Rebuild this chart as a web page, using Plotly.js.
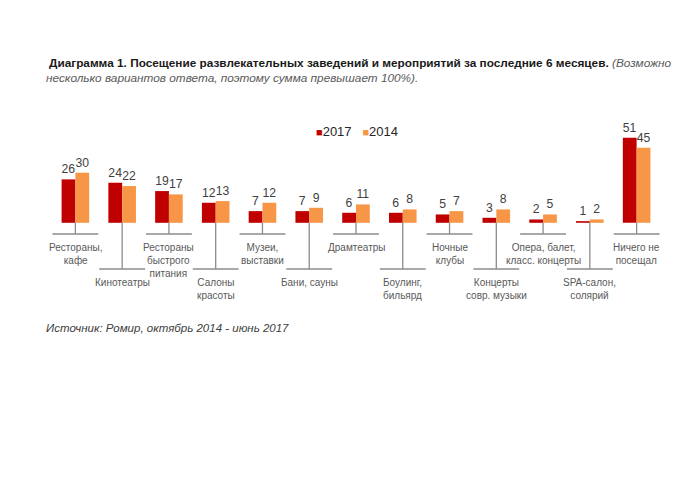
<!DOCTYPE html>
<html><head><meta charset="utf-8">
<script src="https://cdn.plot.ly/plotly-3.0.1.min.js"></script>
<style>body{margin:0;background:#fff}#c{width:700px;height:490px}</style>
</head><body><div id="c"></div>
<script>
const categories = ["Рестораны,<br>кафе","Кинотеатры","Рестораны<br>быстрого<br>питания","Салоны<br>красоты","Музеи,<br>выставки","Бани, сауны","Драмтеатры","Боулинг,<br>бильярд","Ночные<br>клубы","Концерты<br>совр. музыки","Опера, балет,<br>класс. концерты","SPA-салон,<br>солярий","Ничего не<br>посещал"];
const values2017 = [26,24,19,12,7,7,6,6,5,3,2,1,51];
const values2014 = [30,22,17,13,12,9,11,8,7,8,5,2,45];
const seriesNames = ["2017","2014"];
const seriesColors = ["#C00000","#F79646"];

const SANS = 'Arial, "Liberation Sans", sans-serif';
const idx = categories.map((_, i) => i);

// pixel helpers (layout only)
const BASE = 222.8, PXU = 1.67;
const py = p => (BASE - p) / PXU;

const valFont = {family:SANS, size:12.2, color:'#404040'};
const traces = [values2017, values2014].map((vals, k) => ({
  type:'bar', name:seriesNames[k], x:idx, y:vals, marker:{color:seriesColors[k]},
  text:vals.map(String), textposition:'outside', constraintext:'none', cliponaxis:false,
  textfont:valFont, outsidetextfont:valFont, showlegend:false
}));

const shapes = [], annotations = [];
categories.forEach((c, i) => {
  const long = i % 2 === 1;
  const yl = long ? py(269) : py(234);
  shapes.push({type:'line', xref:'x', yref:'y', x0:i, x1:i, y0:0, y1:yl, line:{color:'#8c8c8c', width:1.3}});
  shapes.push({type:'line', xref:'x', yref:'y', x0:i-0.49, x1:i+0.49, y0:yl, y1:yl, line:{color:'#8c8c8c', width:1.3}});
  annotations.push({xref:'x', yref:'y', x:i, y: long ? py(275) : py(240), text:c, showarrow:false,
    xanchor:'center', yanchor:'top', align:'center', font:{family:SANS, size:10, color:'#595959'}});
});

// legend
annotations.push({xref:'paper', yref:'paper', x:(357-51.6)/608.8, y:(310-131)/210, xanchor:'center', yanchor:'middle', showarrow:false,
  text: seriesNames.map((n, k) => '<span style="color:' + seriesColors[k] + ';font-size:11px">■</span>' + n).join('   '),
  font:{family:SANS, size:13, color:'#262626'}});

annotations.push({xref:'paper', yref:'paper', x:(47-51.6)/608.8, y:(310-63)/210, xanchor:'left', yanchor:'middle', showarrow:false, align:'left',
  text:'<b>Диаграмма 1. Посещение развлекательных заведений и мероприятий за последние 6 месяцев.</b> <i><span style="color:#595959">(Возможно</span></i>',
  font:{family:SANS, size:11.8, color:'#1a1a1a'}});
annotations.push({xref:'paper', yref:'paper', x:(44-51.6)/608.8, y:(310-78)/210, xanchor:'left', yanchor:'middle', showarrow:false, align:'left',
  text:'<i>несколько вариантов ответа, поэтому сумма превышает 100%).</i>',
  font:{family:SANS, size:11.8, color:'#595959'}});
annotations.push({xref:'paper', yref:'paper', x:(44-51.6)/608.8, y:(310-328)/210, xanchor:'left', yanchor:'middle', showarrow:false, align:'left',
  text:'<i>Источник: Ромир, октябрь 2014 - июнь 2017</i>',
  font:{family:SANS, size:11.5, color:'#404040'}});

const layout = {
  width:700, height:490, paper_bgcolor:'#fff', plot_bgcolor:'#fff',
  margin:{l:51.6, r:39.6, t:100, b:180, pad:0},
  barmode:'group', bargap:0.41, bargroupgap:0,
  xaxis:{range:[-0.5,12.5], visible:false, fixedrange:true},
  yaxis:{range:[py(310), py(100)], visible:false, fixedrange:true},
  showlegend:false,
  shapes, annotations
};
Plotly.newPlot('c', traces, layout, {staticPlot:true});
</script></body></html>
